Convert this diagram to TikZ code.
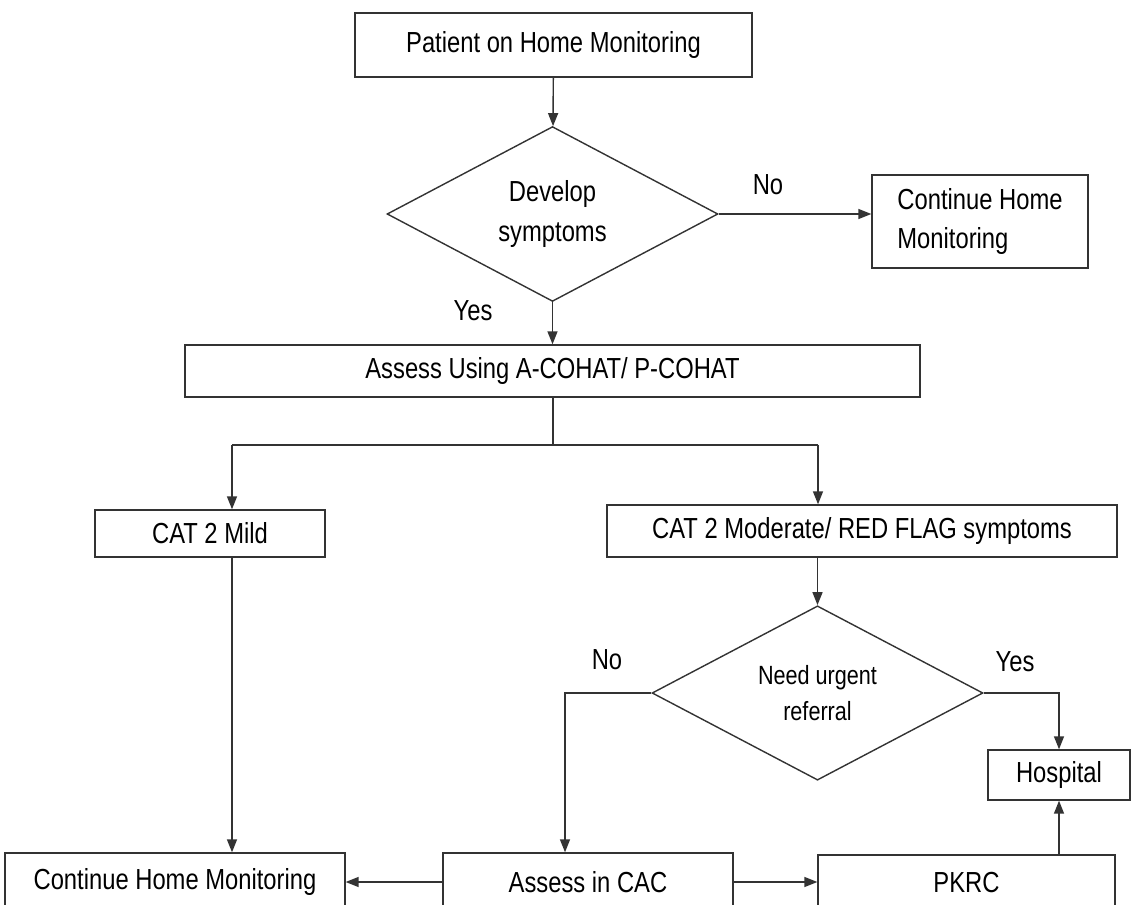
\documentclass[tikz,border=0pt]{standalone}
\usepackage{fontspec}
\setmainfont[FakeStretch=0.82]{Liberation Sans}
\usetikzlibrary{shapes.geometric,arrows.meta}

\begin{document}
\begin{tikzpicture}[x=0.02cm, y=-0.02cm, line width=0.8pt,
  every node/.style={font=\fontsize{16.5}{22.5}\selectfont, inner sep=1pt},
  stepbox/.style={draw=black!80, rectangle},
  decision/.style={draw=black!80, diamond, inner sep=0pt},
  arrow/.style={draw=black!80, -{Triangle[length=2.6mm,width=2mm]}}]
  \useasboundingbox (0,0) rectangle (1143,905);

  \node[stepbox, minimum width=7.94cm, minimum height=1.28cm] (patient) at (553.5,45) {Patient on Home Monitoring};
  \node[decision, minimum width=6.62cm, minimum height=3.36cm, align=center] (develop) at (552.5,214) {Develop\\symptoms};
  \node[stepbox, minimum width=4.32cm, minimum height=1.86cm, align=left] (contA) at (980,221.5) {Continue Home\\Monitoring};
  \node[stepbox, minimum width=14.7cm, minimum height=1.04cm] (assess) at (552.5,371) {Assess Using A-COHAT/ P-COHAT};
  \node[stepbox, minimum width=4.6cm, minimum height=0.94cm] (mild) at (210,533.5) {CAT 2 Mild};
  \node[stepbox, minimum width=10.2cm, minimum height=1.04cm] (moderate) at (862,531) {CAT 2 Moderate/ RED FLAG symptoms};
  \node[decision, minimum width=6.62cm, minimum height=3.44cm, align=center, font=\fontsize{15}{20.5}\selectfont] (urgent) at (817.5,693) {Need urgent\\referral};
  \node[stepbox, minimum width=2.84cm, minimum height=1.0cm] (hospital) at (1059,775) {Hospital};
  \node[stepbox, minimum width=6.8cm, minimum height=1.16cm] (contB) at (175,882) {Continue Home Monitoring};
  \node[stepbox, minimum width=5.8cm, minimum height=1.16cm] (cac) at (588,882) {Assess in CAC};
  \node[stepbox, minimum width=5.94cm, minimum height=1.12cm] (pkrc) at (966.5,883) {PKRC};

  \node (no1) at (768,185) {No};
  \node (yes1) at (473,311) {Yes};
  \node (no2) at (607,660) {No};
  \node (yes2) at (1015,662) {Yes};

  \coordinate (split) at (553,445);
  \coordinate (jL) at (232,445);
  \coordinate (jR) at (818,445);
  \coordinate (nL) at (565,693);

  \draw[arrow] (patient) -- (develop);
  \draw[arrow] (develop.east) -- (contA.west |- develop.east);
  \draw[arrow] (develop) -- (assess);
  \draw[draw=black!80] (assess.south -| split) -- (split);
  \draw[draw=black!80] (jL) -- (jR);
  \draw[arrow] (jL) -- (jL |- mild.north);
  \draw[arrow] (jR) -- (jR |- moderate.north);
  \draw[arrow] (urgent.north |- moderate.south) -- (urgent.north);
  \draw[arrow] (urgent.west) -- (nL) -- (nL |- cac.north);
  \draw[arrow] (urgent.east) -| (hospital.north);
  \draw[arrow] (pkrc.north -| hospital.south) -- (hospital.south);
  \draw[arrow] (mild.south -| jL) -- (jL |- contB.north);
  \draw[arrow] (cac) -- (contB);
  \draw[arrow] (cac) -- (pkrc.west |- cac.east);
\end{tikzpicture}
\end{document}
